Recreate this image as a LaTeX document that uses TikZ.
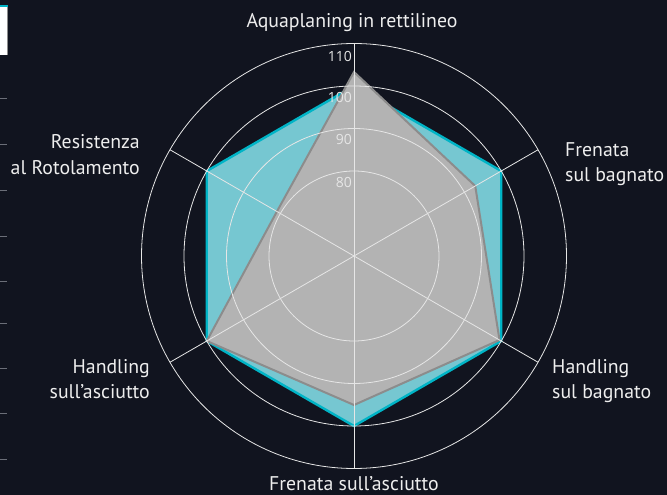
\documentclass[tikz,border=0pt]{standalone}
\usepackage{fontspec}
\setmainfont{PT Sans}
\newfontfamily\numfont{Open Sans}
\definecolor{bgc}{HTML}{11141F}
\definecolor{cyfill}{HTML}{76C7D1}
\definecolor{cyline}{HTML}{00B4C6}
\definecolor{gyfill}{HTML}{B3B3B3}
\definecolor{gyline}{HTML}{8C8C8C}
\definecolor{gridc}{HTML}{E6E6E6}
\definecolor{txtc}{HTML}{EEEEEE}
\definecolor{tickc}{HTML}{6B6E78}
\tikzset{
  cat/.style={text=txtc, font=\fontsize{19.8}{23}\selectfont, inner sep=0pt},
  num/.style={text=gridc, font=\numfont\fontsize{14}{16}\selectfont, inner sep=0pt, anchor=east},
  gridline/.style={draw=gridc, line width=0.8pt},
  sidetick/.style={draw=tickc, line width=1pt},
}
\begin{document}
\begin{tikzpicture}[x=1pt,y=-1pt]
\fill[bgc] (0,0) rectangle (667,495);
\useasboundingbox (0,0) rectangle (667,495);
% left panel fragment
\fill[white] (0,7) rectangle (7,55);
\draw[gyline, line width=0.8pt] (7,7) -- (7,55);
\fill[cyline] (0,5.5) rectangle (7.5,7.5);
\foreach \yy in {99,144,190,236,281,323,368,413,459}
  \draw[sidetick] (0,\yy) -- (7,\yy);
\begin{scope}[shift={(354,256)}]
\coordinate (c) at (0,0);
% datasets (angles negated because the y axis points down)
\draw[fill=cyfill, draw=cyline, line width=2.4pt, line join=miter]
  (-90:170) -- (-30:170) -- (30:170) -- (90:170) -- (150:170) -- (-150:170) -- cycle;
\draw[fill=gyfill, draw=gyline, line width=2pt, line join=miter]
  (-90:184) -- (-30:140) -- (30:168) -- (90:149) -- (150:170) -- (-150:89) -- cycle;
% grid
\foreach \r in {85,127.5,170,212.5}
  \draw[gridline] (c) circle[radius=\r];
\foreach \a/\n in {-90/a1,-30/a2,30/a3,90/a4,150/a5,-150/a6}{
  \coordinate (\n) at (\a:212.5);
  \draw[gridline] (c) -- (\n);
}
% scale labels
\node[num] (t80)  at (-2,-85+11)    {80};
\node[num] (t90)  at (-2,-127.5+11) {90};
\node[num] (t100) at (-2,-170+11)   {100};
\node[num] (t110) at (-2,-212.5+13) {110};
\end{scope}
% category labels
\node[cat, anchor=base] (l1) at (352,28) {Aquaplaning in rettilineo};
\node[cat, anchor=base west] (l2a) at (565,156) {Frenata};
\node[cat, anchor=base west] (l2b) at (565,181) {sul bagnato};
\node[cat, anchor=base west] (l3a) at (552,373) {Handling};
\node[cat, anchor=base west] (l3b) at (552,398) {sul bagnato};
\node[cat, anchor=base] (l4) at (354,490) {Frenata sull’asciutto};
\node[cat, anchor=base east] (l5a) at (150,373) {Handling};
\node[cat, anchor=base east] (l5b) at (150,398) {sull’asciutto};
\node[cat, anchor=base east] (l6a) at (140,148) {Resistenza};
\node[cat, anchor=base east] (l6b) at (140,174) {al Rotolamento};
\end{tikzpicture}
\end{document}
